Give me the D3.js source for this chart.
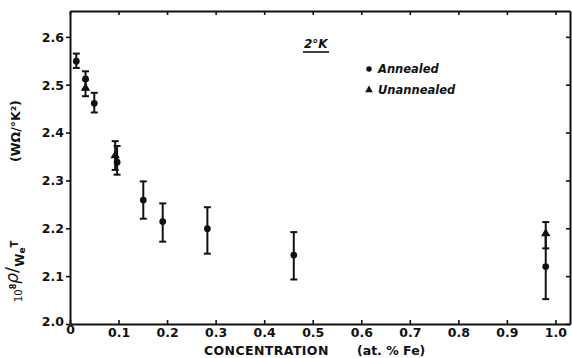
<!DOCTYPE html>
<html><head><meta charset="utf-8">
<script src="https://cdn.jsdelivr.net/npm/d3@7"></script>
<style>
body{margin:0;background:#fff}
text{font-family:"DejaVu Sans",sans-serif;font-weight:bold;fill:#111}
</style></head>
<body><svg id="c" width="572" height="358"></svg>
<script>
// Annealed (circles)
const annealedX   = [0.013, 0.032, 0.050, 0.097, 0.151, 0.191, 0.283, 0.461, 0.980];
const annealedY   = [2.549, 2.512, 2.461, 2.338, 2.259, 2.214, 2.199, 2.144, 2.120];
const annealedLo  = [2.535, 2.490, 2.442, 2.312, 2.220, 2.172, 2.147, 2.093, 2.052];
const annealedHi  = [2.565, 2.528, 2.483, 2.372, 2.298, 2.252, 2.244, 2.192, 2.186];
// Unannealed (triangles)
const unannealedX  = [0.032, 0.093, 0.980];
const unannealedY  = [2.494, 2.353, 2.190];
const unannealedLo = [2.476, 2.322, 2.158];
const unannealedHi = [2.510, 2.382, 2.213];

const xTicks = [0, 0.1, 0.2, 0.3, 0.4, 0.5, 0.6, 0.7, 0.8, 0.9, 1.0];
const xTickLabels = ["0", "0.1", "0.2", "0.3", "0.4", "0.5", "0.6", "0.7", "0.8", "0.9", "1.0"];
const yTicks = [2.0, 2.1, 2.2, 2.3, 2.4, 2.5, 2.6];
const yTickLabels = ["2.0", "2.1", "2.2", "2.3", "2.4", "2.5", "2.6"];

const svg = d3.select("#c");
const L = 70, R = 570, T = 11, B = 324;
const x = d3.scaleLinear().domain([0, 1.03]).range([L, R]);
const y = d3.scaleLinear().domain([2.0, 2.654]).range([B, T]);
const ink = "#111";

// axes
const gBottom = svg.append("g").attr("transform", `translate(0,${B})`)
  .call(d3.axisBottom(x).tickValues(xTicks).tickFormat((d,i)=>xTickLabels[i]).tickSizeInner(-4).tickSizeOuter(0).tickPadding(4));
const gTop = svg.append("g").attr("transform", `translate(0,${T})`)
  .call(d3.axisTop(x).tickValues(xTicks).tickFormat("").tickSizeInner(-4).tickSizeOuter(0));
const gLeft = svg.append("g").attr("transform", `translate(${L},0)`)
  .call(d3.axisLeft(y).tickValues(yTicks).tickFormat((d,i)=>yTickLabels[i]).tickSizeInner(4).tickSizeOuter(0).tickPadding(2));
const gRight = svg.append("g").attr("transform", `translate(${R},0)`)
  .call(d3.axisRight(y).tickValues(yTicks).tickFormat("").tickSizeInner(-4).tickSizeOuter(0));
[gBottom, gTop, gLeft, gRight].forEach(g => {
  g.selectAll(".domain").attr("stroke", ink).attr("stroke-width", 2);
  g.selectAll(".tick line").attr("stroke", ink).attr("stroke-width", 1.6);
  g.selectAll(".tick text").style("font-size", "12.5px").attr("fill", ink);
});
gBottom.selectAll(".tick text").attr("dy", "0.71em");
gLeft.selectAll(".tick text").attr("dy", "0.35em");
gLeft.selectAll(".tick").filter(d => d === 2.0).select("text").attr("dy", "0.1em");
gBottom.selectAll(".tick").filter(d => d === 0).select("text").attr("dy", "0.5em");

// error bars + markers
function series(X, Y, Lo, Hi, shape) {
  const g = svg.append("g");
  const idx = d3.range(X.length);
  g.selectAll("line.v").data(idx).join("line").attr("class", "v")
    .attr("x1", i => x(X[i])).attr("x2", i => x(X[i]))
    .attr("y1", i => y(Lo[i])).attr("y2", i => y(Hi[i]))
    .attr("stroke", ink).attr("stroke-width", 2);
  ["lo", "hi"].forEach(k => {
    const arr = k === "lo" ? Lo : Hi;
    g.selectAll("line." + k).data(idx).join("line").attr("class", k)
      .attr("x1", i => x(X[i]) - 3.5).attr("x2", i => x(X[i]) + 3.5)
      .attr("y1", i => y(arr[i])).attr("y2", i => y(arr[i]))
      .attr("stroke", ink).attr("stroke-width", 2);
  });
  const sym = d3.symbol().type(shape === "c" ? d3.symbolCircle : d3.symbolTriangle).size(shape === "c" ? 36 : 38);
  g.selectAll("path.m").data(idx).join("path").attr("class", "m")
    .attr("transform", i => `translate(${x(X[i])},${y(Y[i]) + (shape === "c" ? 0 : 0.5)})`)
    .attr("d", sym).attr("fill", ink);
}
series(annealedX, annealedY, annealedLo, annealedHi, "c");
series(unannealedX, unannealedY, unannealedLo, unannealedHi, "t");

// title 2°K
svg.append("text").attr("x", 304).attr("y", 48).style("font-size", "12px").style("font-style", "italic").text("2°K");
svg.append("line").attr("x1", 303).attr("x2", 329).attr("y1", 52).attr("y2", 52).attr("stroke", ink).attr("stroke-width", 1.6);

// legend
svg.append("path").attr("d", d3.symbol().type(d3.symbolCircle).size(24)()).attr("transform", "translate(369,69)").attr("fill", ink);
svg.append("text").attr("x", 378).attr("y", 73).style("font-size", "11.5px").style("font-style", "italic").text("Annealed");
svg.append("path").attr("d", d3.symbol().type(d3.symbolTriangle).size(26)()).attr("transform", "translate(369,90)").attr("fill", ink);
svg.append("text").attr("x", 378).attr("y", 94).style("font-size", "11.5px").style("font-style", "italic").text("Unannealed");

// x label
svg.append("text").attr("x", 204).attr("y", 355).style("font-size", "12.5px").style("letter-spacing", "0.4px").text("CONCENTRATION");
svg.append("text").attr("x", 357).attr("y", 355).style("font-size", "12.5px").attr("xml:space", "preserve").text("(at. % Fe)");

// y label
const yl = svg.append("text").attr("transform", "translate(22,302) rotate(-90)").attr("x", 0).attr("y", 0);
yl.append("tspan").style("font-size", "10px").style("font-weight", "normal").text("10");
yl.append("tspan").style("font-size", "8px").attr("dy", -6).text("8");
yl.append("tspan").style("font-size", "17px").style("font-style", "italic").style("font-weight", "normal").attr("dy", 2).text("ρ");
yl.append("tspan").style("font-size", "18px").style("font-weight", "normal").attr("dy", 0).text("/");
yl.append("tspan").style("font-size", "12px").attr("dy", 6).text("W");
yl.append("tspan").style("font-size", "9px").attr("dy", 1).text("e");
yl.append("tspan").style("font-size", "10px").attr("dy", -7).text("T");
svg.append("text").attr("transform", "translate(20,162) rotate(-90)").style("font-size", "12.5px").text("(WΩ/°K²)");
</script></body></html>
